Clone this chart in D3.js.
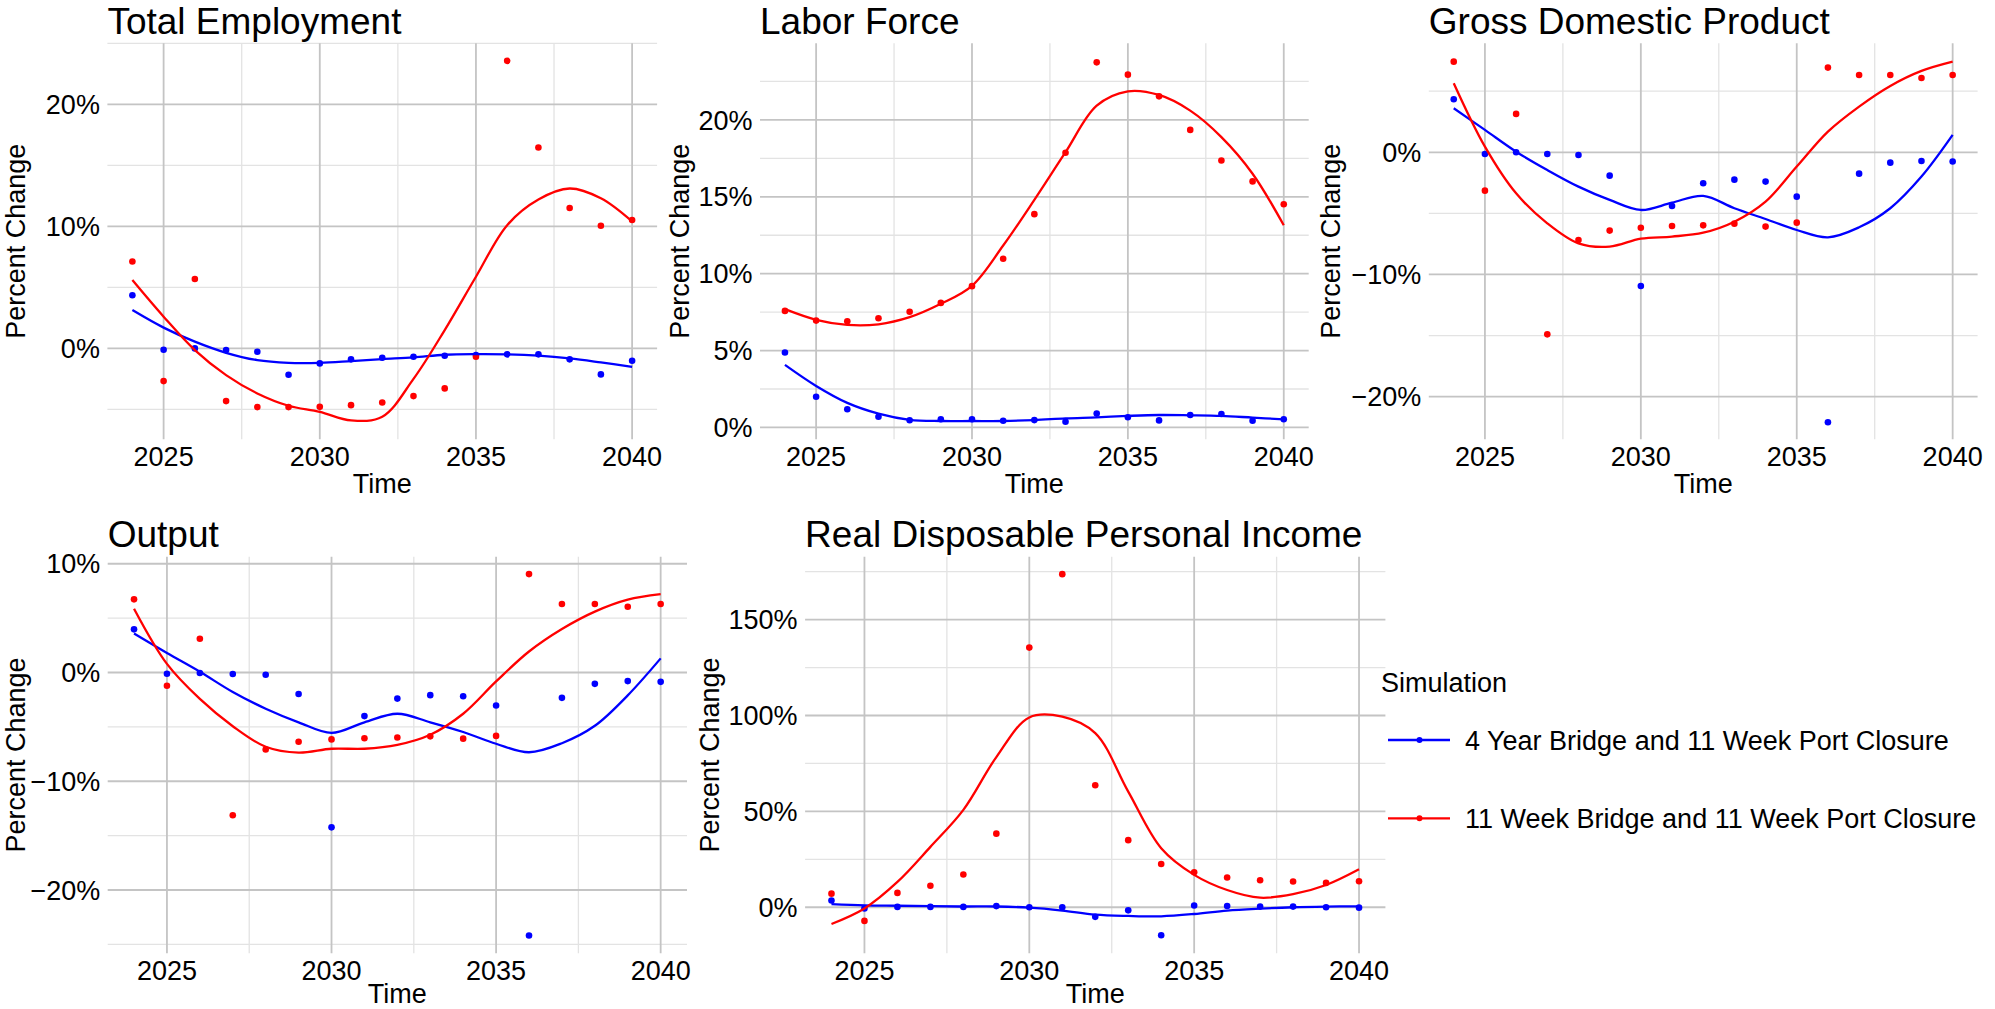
<!DOCTYPE html>
<html>
<head>
<meta charset="utf-8">
<script src="https://cdn.jsdelivr.net/npm/d3@7"></script>
<style>
  body { margin: 0; background: #fff; }
  svg { display: block; font-family: "Liberation Sans", Arial, sans-serif; }
</style>
</head>
<body>
<div id="chart"></div>
<script>
// years on the x axis
const years = [2024, 2025, 2026, 2027, 2028, 2029, 2030, 2031, 2032, 2033, 2034, 2035, 2036, 2037, 2038, 2039, 2040];
const xTicks = [2025, 2030, 2035, 2040];
const xMinor = [2027.5, 2032.5, 2037.5];

const seriesNames = ["4 Year Bridge and 11 Week Port Closure", "11 Week Bridge and 11 Week Port Closure"];
const seriesColors = ["#0000ff", "#ff0000"];

// Total Employment
const emp4 = [4.35, -0.11, 0.0, -0.14, -0.27, -2.16, -1.23, -0.90, -0.77, -0.68, -0.60, -0.55, -0.49, -0.49, -0.90, -2.13, -1.01];
const emp11 = [7.12, -2.68, 5.69, -4.32, -4.81, -4.81, -4.79, -4.65, -4.43, -3.91, -3.28, -0.68, 23.56, 16.46, 11.5, 10.05, 10.52];
const emp4Fit = [3.14, 1.70, 0.55, -0.36, -0.96, -1.18, -1.18, -1.04, -0.88, -0.74, -0.52, -0.47, -0.49, -0.60, -0.82, -1.15, -1.51];
const emp11Fit = [5.6, 2.6, -0.14, -2.19, -3.69, -4.7, -5.2, -5.9, -5.6, -2.5, 1.5, 5.87, 10.1, 12.2, 13.1, 12.3, 10.4];
const empTicks = [0, 10, 20];
const empMinor = [-5, 5, 15, 25];

// Labor Force
const lab4 = [4.87, 2.0, 1.18, 0.70, 0.47, 0.53, 0.53, 0.44, 0.48, 0.37, 0.90, 0.66, 0.46, 0.81, 0.88, 0.44, 0.53];
const lab11 = [7.58, 6.95, 6.91, 7.10, 7.52, 8.10, 9.19, 10.97, 13.87, 17.86, 23.74, 22.94, 21.53, 19.35, 17.36, 16.0, 14.51];
const lab4Fit = [4.07, 2.7, 1.6, 0.9, 0.5, 0.42, 0.42, 0.42, 0.48, 0.59, 0.66, 0.75, 0.81, 0.79, 0.75, 0.64, 0.53];
const lab11Fit = [7.69, 7.0, 6.67, 6.71, 7.17, 8.04, 9.21, 11.83, 14.8, 17.9, 20.93, 21.86, 21.62, 20.6, 18.88, 16.5, 13.15];
const labTicks = [0, 5, 10, 15, 20];
const labMinor = [2.5, 7.5, 12.5, 17.5, 22.5];

// Gross Domestic Product
const gdp4 = [4.34, -0.14, 0.0, -0.14, -0.22, -1.91, -10.94, -4.39, -2.54, -2.24, -2.40, -3.63, -22.1, -1.75, -0.85, -0.71, -0.76];
const gdp11 = [7.42, -3.14, 3.14, -14.9, -7.18, -6.41, -6.17, -6.03, -5.98, -5.84, -6.08, -5.76, 6.93, 6.33, 6.33, 6.08, 6.33];
const gdp4Fit = [3.60, 1.83, 0.05, -1.45, -2.81, -3.90, -4.72, -4.12, -3.57, -4.58, -5.46, -6.36, -6.96, -6.14, -4.58, -1.99, 1.42];
const gdp11Fit = [5.65, 0.46, -3.36, -5.81, -7.45, -7.72, -7.07, -6.90, -6.58, -5.68, -4.04, -1.17, 1.69, 3.74, 5.43, 6.66, 7.42];
const gdpTicks = [-20, -10, 0];
const gdpMinor = [-15, -5, 5];

// Output
const out4 = [3.97, -0.11, -0.04, -0.14, -0.21, -1.97, -14.24, -4.01, -2.40, -2.08, -2.18, -3.04, -24.19, -2.33, -1.04, -0.79, -0.86];
const out11 = [6.73, -1.22, 3.11, -13.13, -7.08, -6.37, -6.15, -6.05, -5.97, -5.87, -6.08, -5.83, 9.05, 6.30, 6.30, 6.05, 6.30];
const out4Fit = [3.58, 1.79, 0.07, -1.79, -3.33, -4.58, -5.55, -4.58, -3.79, -4.58, -5.47, -6.55, -7.33, -6.5, -4.9, -2.1, 1.3];
const out11Fit = [5.87, 0.79, -2.43, -4.94, -6.83, -7.37, -7.01, -7.01, -6.65, -5.72, -3.79, -0.82, 1.93, 4.0, 5.6, 6.7, 7.2];
const outTicks = [-20, -10, 0, 10];
const outMinor = [-25, -15, -5, 5];

// Real Disposable Personal Income
const rdpi4 = [3.5, -0.6, 0.2, 0.2, 0.2, 0.6, 0.0, 0.0, -5.0, -1.6, -14.6, 0.9, 0.7, 0.35, 0.35, 0.0, -0.2];
const rdpi11 = [7.1, -7.1, 7.5, 11.2, 17.1, 38.4, 135.4, 173.7, 63.6, 35.0, 22.6, 18.3, 15.5, 14.1, 13.4, 12.7, 13.6];
const rdpi4Fit = [1.6, 1.0, 0.8, 0.6, 0.4, 0.4, -0.2, -1.7, -3.8, -4.5, -4.7, -3.5, -1.7, -0.7, 0.0, 0.35, 0.5];
const rdpi11Fit = [-8.7, -0.6, 13.2, 31.5, 50.8, 78.3, 99.0, 99.4, 90.8, 60.3, 30.8, 16.9, 9.0, 5.0, 6.8, 11.6, 19.8];
const rdpiTicks = [0, 50, 100, 150];
const rdpiMinor = [25, 75, 125, 175];

const width = 1995, height = 1009;
const fontSmall = 27, fontTitle = 37;

// panel boxes (layout), matching the patchwork grid
const panels = [
  { title: "Total Employment", pts: [emp4, emp11], fit: [emp4Fit, emp11Fit], ticks: empTicks, minor: empMinor,
    domain: [-7.45, 25.0], x0: 107.4, x1: 657.1, y0: 43.3, y1: 439.3, yTitleX: 25 },
  { title: "Labor Force", pts: [lab4, lab11], fit: [lab4Fit, lab11Fit], ticks: labTicks, minor: labMinor,
    domain: [-0.77, 24.98], x0: 760, x1: 1308.7, y0: 43.3, y1: 439.3, yTitleX: 689.3 },
  { title: "Gross Domestic Product", pts: [gdp4, gdp11], fit: [gdp4Fit, gdp11Fit], ticks: gdpTicks, minor: gdpMinor,
    domain: [-23.49, 8.92], x0: 1428.8, x1: 1977.6, y0: 43.3, y1: 439.3, yTitleX: 1340.3 },
  { title: "Output", pts: [out4, out11], fit: [out4Fit, out11Fit], ticks: outTicks, minor: outMinor,
    domain: [-25.82, 10.65], x0: 107.7, x1: 687, y0: 556.7, y1: 953.3, yTitleX: 25 },
  { title: "Real Disposable Personal Income", pts: [rdpi4, rdpi11], fit: [rdpi4Fit, rdpi11Fit], ticks: rdpiTicks, minor: rdpiMinor,
    domain: [-24.0, 182.8], x0: 805.1, x1: 1385.4, y0: 556.7, y1: 953.3, yTitleX: 719 }
];

const svg = d3.select("#chart").append("svg")
  .attr("width", width)
  .attr("height", height);

const pctFmt = v => (v < 0 ? "\u2212" + Math.abs(v) : String(v)) + "%";

panels.forEach(p => {
  const x = d3.scaleLinear().domain([2023.2, 2040.8]).range([p.x0, p.x1]);
  const y = d3.scaleLinear().domain(p.domain).range([p.y1, p.y0]);
  const g = svg.append("g");

  // minor grid
  g.selectAll(".hminor").data(p.minor.filter(v => v >= p.domain[0] && v <= p.domain[1])).enter()
    .append("line")
    .attr("x1", p.x0).attr("x2", p.x1)
    .attr("y1", d => y(d)).attr("y2", d => y(d))
    .attr("stroke", "#e3e3e3").attr("stroke-width", 1.3);
  g.selectAll(".vminor").data(xMinor).enter()
    .append("line")
    .attr("y1", p.y0).attr("y2", p.y1)
    .attr("x1", d => x(d)).attr("x2", d => x(d))
    .attr("stroke", "#e3e3e3").attr("stroke-width", 1.3);

  // major grid
  g.selectAll(".hmajor").data(p.ticks).enter()
    .append("line")
    .attr("x1", p.x0).attr("x2", p.x1)
    .attr("y1", d => y(d)).attr("y2", d => y(d))
    .attr("stroke", "#c4c4c4").attr("stroke-width", 1.8);
  g.selectAll(".vmajor").data(xTicks).enter()
    .append("line")
    .attr("y1", p.y0).attr("y2", p.y1)
    .attr("x1", d => x(d)).attr("x2", d => x(d))
    .attr("stroke", "#c4c4c4").attr("stroke-width", 1.8);

  // y tick labels
  g.selectAll(".ylab").data(p.ticks).enter()
    .append("text")
    .attr("x", p.x0 - 7.5)
    .attr("y", d => y(d))
    .attr("dy", "0.36em")
    .attr("text-anchor", "end")
    .attr("font-size", fontSmall)
    .attr("fill", "#000")
    .text(pctFmt);

  // x tick labels
  g.selectAll(".xlab").data(xTicks).enter()
    .append("text")
    .attr("x", d => x(d))
    .attr("y", p.y1 + 26.5)
    .attr("text-anchor", "middle")
    .attr("font-size", fontSmall)
    .attr("fill", "#000")
    .text(d => d);

  // axis titles
  g.append("text")
    .attr("x", (p.x0 + p.x1) / 2)
    .attr("y", Math.min(p.y1 + 53.7, height - 6.5))
    .attr("text-anchor", "middle")
    .attr("font-size", fontSmall)
    .text("Time");
  g.append("text")
    .attr("transform", `translate(${p.yTitleX}, ${(p.y0 + p.y1) / 2}) rotate(-90)`)
    .attr("text-anchor", "middle")
    .attr("font-size", fontSmall)
    .text("Percent Change");

  // panel title
  g.append("text")
    .attr("x", p.x0)
    .attr("y", p.y0 - 9.5)
    .attr("font-size", fontTitle)
    .text(p.title);

  // points and smooth lines
  const line = d3.line()
    .x((d, i) => x(years[i]))
    .y(d => y(d))
    .curve(d3.curveCatmullRom.alpha(0.5));

  p.pts.forEach((vals, s) => {
    g.append("g").selectAll("circle").data(vals).enter()
      .append("circle")
      .attr("cx", (d, i) => x(years[i]))
      .attr("cy", d => y(d))
      .attr("r", 3.3)
      .attr("fill", seriesColors[s]);
  });
  p.fit.forEach((vals, s) => {
    g.append("path")
      .datum(vals)
      .attr("d", line)
      .attr("fill", "none")
      .attr("stroke", seriesColors[s])
      .attr("stroke-width", 2.3);
  });
});

// legend
const legend = svg.append("g").attr("transform", "translate(1381, 0)");
legend.append("text")
  .attr("x", 0)
  .attr("y", 691.7)
  .attr("font-size", fontSmall)
  .text("Simulation");

const keyY = [740, 818.3];
seriesNames.forEach((name, i) => {
  const item = legend.append("g").attr("transform", `translate(0, ${keyY[i]})`);
  item.append("line")
    .attr("x1", 7).attr("x2", 69)
    .attr("stroke", seriesColors[i]).attr("stroke-width", 2.3);
  item.append("circle")
    .attr("cx", 38.5).attr("cy", 0).attr("r", 3)
    .attr("fill", seriesColors[i]);
  item.append("text")
    .attr("x", 84)
    .attr("dy", "0.36em")
    .attr("font-size", fontSmall)
    .text(name);
});
</script>
</body>
</html>
